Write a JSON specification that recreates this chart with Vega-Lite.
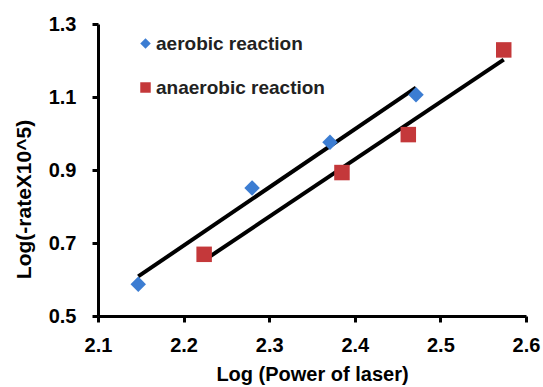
{
  "$schema": "https://vega.github.io/schema/vega-lite/v6.json",
  "width": 428,
  "height": 292,
  "autosize": "none",
  "padding": {"left": 98, "top": 24, "right": 17, "bottom": 71},
  "background": "white",
  "config": {
    "view": {"stroke": null},
    "font": "Liberation Sans"
  },
  "data": {
    "values": [
      {"series": "aerobic reaction", "x": 2.147, "y": 0.587},
      {"series": "aerobic reaction", "x": 2.280, "y": 0.851},
      {"series": "aerobic reaction", "x": 2.371, "y": 0.976},
      {"series": "aerobic reaction", "x": 2.4715, "y": 1.106},
      {"series": "anaerobic reaction", "x": 2.224, "y": 0.669},
      {"series": "anaerobic reaction", "x": 2.385, "y": 0.893},
      {"series": "anaerobic reaction", "x": 2.4625, "y": 0.997},
      {"series": "anaerobic reaction", "x": 2.574, "y": 1.229}
    ]
  },
  "encoding": {
    "x": {
      "field": "x",
      "type": "quantitative",
      "scale": {"domain": [2.1, 2.6], "nice": false, "zero": false},
      "axis": {
        "values": [2.1, 2.2, 2.3, 2.4, 2.5, 2.6],
        "format": ".1f",
        "grid": false,
        "domainColor": "black",
        "domainWidth": 3,
        "tickColor": "black",
        "tickWidth": 3,
        "tickSize": 6,
        "labelFont": "Liberation Sans",
        "labelFontSize": 20,
        "labelFontWeight": "bold",
        "labelColor": "black",
        "labelPadding": 13,
        "labelFlush": false,
        "title": "Log (Power of laser)",
        "titleFont": "Liberation Sans",
        "titleFontSize": 20,
        "titleFontWeight": "bold",
        "titleColor": "black",
        "titlePadding": 9
      }
    },
    "y": {
      "field": "y",
      "type": "quantitative",
      "scale": {"domain": [0.5, 1.3], "nice": false, "zero": false},
      "axis": {
        "values": [0.5, 0.7, 0.9, 1.1, 1.3],
        "format": ".1f",
        "grid": false,
        "domainColor": "black",
        "domainWidth": 3,
        "tickColor": "black",
        "tickWidth": 3,
        "tickSize": 6,
        "labelFont": "Liberation Sans",
        "labelFontSize": 20,
        "labelFontWeight": "bold",
        "labelColor": "black",
        "labelPadding": 16,
        "labelFlush": false,
        "title": "Log(-rateX10^5)",
        "titleFont": "Liberation Sans",
        "titleFontSize": 21,
        "titleFontWeight": "bold",
        "titleColor": "black",
        "titlePadding": 14,
        "titleY": 175
      }
    }
  },
  "layer": [
    {
      "transform": [{"regression": "y", "on": "x", "groupby": ["series"]}],
      "mark": {"type": "line", "color": "black", "strokeWidth": 4, "strokeCap": "butt"},
      "encoding": {"detail": {"field": "series", "type": "nominal"}}
    },
    {
      "mark": {"type": "point", "filled": true, "size": 240, "opacity": 1},
      "encoding": {
        "color": {
          "field": "series",
          "type": "nominal",
          "scale": {"domain": ["aerobic reaction", "anaerobic reaction"], "range": ["#3C7DD2", "#C4383A"]},
          "legend": {
            "title": null,
            "orient": "none",
            "legendX": 38,
            "legendY": 10,
            "padding": 0,
            "rowPadding": 24,
            "symbolSize": 110,
            "symbolOpacity": 1,
            "symbolStrokeWidth": 0,
            "labelFont": "Liberation Sans",
            "labelFontSize": 19,
            "labelFontWeight": "bold",
            "labelColor": "#222222",
            "labelOffset": 1,
            "labelLimit": 400
          }
        },
        "shape": {
          "field": "series",
          "type": "nominal",
          "scale": {"domain": ["aerobic reaction", "anaerobic reaction"], "range": ["diamond", "square"]}
        }
      }
    }
  ]
}
